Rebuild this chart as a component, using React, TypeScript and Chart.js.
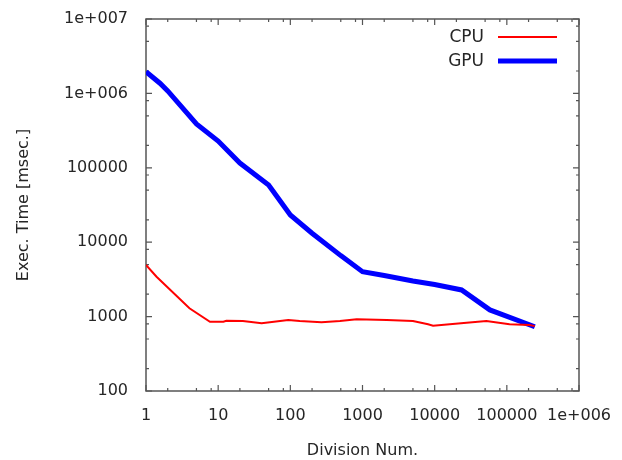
import React, { useEffect, useRef } from 'react';
import { Chart, registerables } from 'chart.js';

Chart.register(...registerables);

// Division numbers (x) and execution times in msec (y)
const cpuDivisions = [1, 1.4, 4, 7.7, 11.8, 13, 22, 40, 52, 93.5, 135, 270, 487, 830, 2170, 5000, 8100, 9500, 27700, 52000, 109000, 205000, 244000];
const cpuTimes = [4940, 3440, 1295, 853, 853, 880, 873, 813, 838, 900, 873, 838, 873, 920, 900, 873, 789, 755, 828, 873, 789, 771, 745];

const gpuDivisions = [1, 1.56, 2, 5, 10, 20, 50, 100, 200, 500, 1000, 2000, 5000, 10000, 23600, 58200, 244000];
const gpuTimes = [1960000, 1370000, 1080000, 388000, 229000, 116000, 58800, 23200, 13200, 6600, 4010, 3570, 3010, 2700, 2280, 1230, 731];

const seriesLabels = ['CPU', 'GPU'];
const seriesColors = ['#ff0000', '#0000ff'];
const seriesWidths = [2, 5];

const xTickValues = [1, 10, 100, 1000, 10000, 100000, 1000000];
const xTickLabels = ['1', '10', '100', '1000', '10000', '100000', '1e+006'];
const yTickValues = [100, 1000, 10000, 100000, 1000000, 10000000];
const yTickLabels = ['100', '1000', '10000', '100000', '1e+006', '1e+007'];
const minorMultipliers = [2, 5, 8];

const xTitle = 'Division Num.';
const yTitle = 'Exec. Time [msec.]';

const FONT = 'DejaVu Sans';
const TEXT = '#262626';
const FRAME = '#555555';

const framePlugin = {
  id: 'gnuplotFrame',
  beforeDatasetsDraw(chart: any) {
    const { ctx, chartArea: a, scales } = chart;
    const xs = scales.x;
    const ys = scales.y;
    ctx.save();
    ctx.strokeStyle = FRAME;
    ctx.lineWidth = 1.5;
    ctx.strokeRect(a.left, a.top, a.right - a.left, a.bottom - a.top);
    ctx.lineWidth = 1.2;
    const drawX = (v: number, len: number) => {
      const p = xs.getPixelForValue(v);
      ctx.beginPath();
      ctx.moveTo(p, a.bottom);
      ctx.lineTo(p, a.bottom - len);
      ctx.moveTo(p, a.top);
      ctx.lineTo(p, a.top + len);
      ctx.stroke();
    };
    const drawY = (v: number, len: number) => {
      const p = ys.getPixelForValue(v);
      ctx.beginPath();
      ctx.moveTo(a.left, p);
      ctx.lineTo(a.left + len, p);
      ctx.moveTo(a.right, p);
      ctx.lineTo(a.right - len, p);
      ctx.stroke();
    };
    xTickValues.forEach((v, i) => {
      drawX(v, 6);
      if (i < xTickValues.length - 1) minorMultipliers.forEach((m) => drawX(v * m, 3));
    });
    yTickValues.forEach((v, i) => {
      drawY(v, 6);
      if (i < yTickValues.length - 1) minorMultipliers.forEach((m) => drawY(v * m, 3));
    });
    ctx.restore();
  },
  afterDraw(chart: any) {
    const { ctx } = chart;
    ctx.save();
    ctx.font = `17px "${FONT}"`;
    ctx.fillStyle = TEXT;
    ctx.textAlign = 'right';
    ctx.textBaseline = 'middle';
    const rows = [37, 61];
    chart.data.datasets.forEach((ds: any, i: number) => {
      const y = rows[i];
      ctx.fillText(ds.label, 484, y + 1);
      ctx.beginPath();
      ctx.strokeStyle = ds.borderColor;
      ctx.lineWidth = ds.borderWidth;
      ctx.moveTo(498, y);
      ctx.lineTo(557, y);
      ctx.stroke();
    });
    ctx.restore();
  },
};

export default function App() {
  const ref = useRef<HTMLCanvasElement>(null);
  useEffect(() => {
    if (!ref.current) return;
    const chart = new Chart(ref.current, {
      type: 'line',
      data: {
        datasets: [
          {
            label: seriesLabels[0],
            data: cpuDivisions.map((x, i) => ({ x, y: cpuTimes[i] })),
            borderColor: seriesColors[0],
            backgroundColor: seriesColors[0],
            borderWidth: seriesWidths[0],
            pointRadius: 0,
            tension: 0,
          },
          {
            label: seriesLabels[1],
            data: gpuDivisions.map((x, i) => ({ x, y: gpuTimes[i] })),
            borderColor: seriesColors[1],
            backgroundColor: seriesColors[1],
            borderWidth: seriesWidths[1],
            pointRadius: 0,
            tension: 0,
          },
        ],
      },
      options: {
        responsive: false,
        animation: false,
        layout: { autoPadding: false, padding: { top: 19, right: 43, left: 0, bottom: 0 } },
        plugins: { legend: { display: false }, tooltip: { enabled: false } },
        scales: {
          x: {
            type: 'logarithmic',
            min: 1,
            max: 1000000,
            grid: { display: false, drawTicks: false },
            border: { display: false },
            afterBuildTicks: (s: any) => {
              s.ticks = xTickValues.map((value) => ({ value }));
            },
            afterFit: (s: any) => {
              s.height = 69;
              s.paddingLeft = 0;
              s.paddingRight = 0;
              s.paddingTop = 0;
              s.paddingBottom = 0;
            },
            ticks: {
              autoSkip: false,
              maxRotation: 0,
              padding: 15,
              color: TEXT,
              font: { family: FONT, size: 16 },
              callback: (_v: any, i: number) => xTickLabels[i],
            },
            title: {
              display: true,
              text: xTitle,
              color: TEXT,
              font: { family: FONT, size: 16 },
              padding: { top: 0, bottom: 0 },
            },
          },
          y: {
            type: 'logarithmic',
            min: 100,
            max: 10000000,
            grid: { display: false, drawTicks: false },
            border: { display: false },
            afterBuildTicks: (s: any) => {
              s.ticks = yTickValues.map((value) => ({ value }));
            },
            afterFit: (s: any) => {
              s.width = 146;
              s.paddingLeft = 0;
              s.paddingRight = 0;
              s.paddingTop = 0;
              s.paddingBottom = 0;
            },
            ticks: {
              autoSkip: false,
              padding: 18,
              color: TEXT,
              font: { family: FONT, size: 16 },
              callback: (_v: any, i: number) => yTickLabels[i],
            },
            title: {
              display: true,
              text: yTitle,
              color: TEXT,
              font: { family: FONT, size: 16 },
              padding: { top: 14, bottom: 0 },
            },
          },
        },
      },
      plugins: [framePlugin],
    } as any);
    return () => chart.destroy();
  }, []);
  return (
    <div style={{ position: 'fixed', left: 0, top: 0, width: 622, height: 460, background: '#fff' }}>
      <canvas ref={ref} width={622} height={460} />
    </div>
  );
}
